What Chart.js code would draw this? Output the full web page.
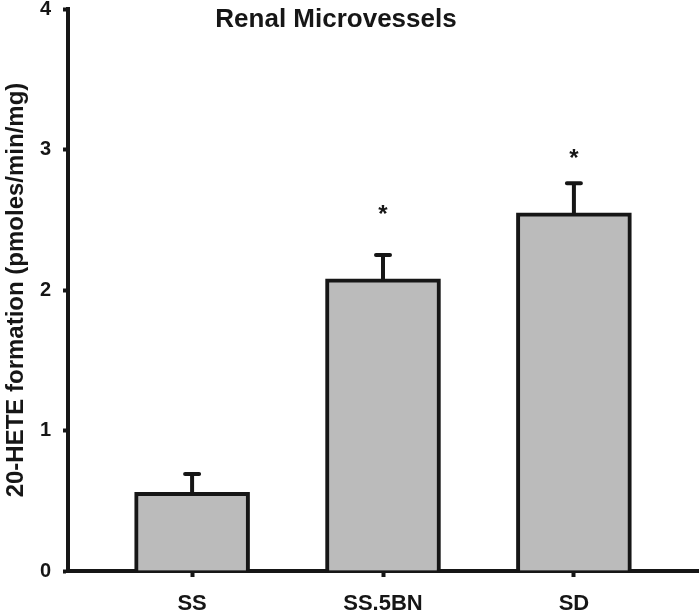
<!DOCTYPE html>
<html>
<head>
<meta charset="utf-8">
<script src="https://cdn.jsdelivr.net/npm/chart.js@4.4.1/dist/chart.umd.min.js"></script>
<style>
  html, body { margin: 0; padding: 0; background: #fff; }
  #wrap { width: 700px; height: 611px; position: relative; }
</style>
</head>
<body>
<div id="wrap"><canvas id="c"></canvas></div>
<script>
const categories = ["SS", "SS.5BN", "SD"];
const values = [0.56, 2.08, 2.55];
const errors = [0.13, 0.17, 0.21];
const starY = [null, 2.53, 2.93];
const yTicks = [0, 1, 2, 3, 4];
const chartTitle = "Renal Microvessels";
const yTitle = "20-HETE formation (pmoles/min/mg)";

const FONT = "'Liberation Sans', Arial, sans-serif";
const INK = '#161616';

const extras = {
  id: 'extras',
  afterDatasetsDraw(chart) {
    const ctx = chart.ctx;
    const xs = chart.scales.x, ys = chart.scales.y;
    ctx.save();
    ctx.strokeStyle = INK;
    ctx.lineWidth = 4;
    ctx.lineCap = 'round';
    values.forEach((v, i) => {
      const x = xs.getPixelForValue(i);
      const y0 = ys.getPixelForValue(v);
      const y1 = ys.getPixelForValue(v + errors[i]);
      ctx.beginPath();
      ctx.moveTo(x, y0); ctx.lineTo(x, y1);
      ctx.moveTo(x - 7, y1); ctx.lineTo(x + 7, y1);
      ctx.stroke();
    });
    ctx.fillStyle = INK;
    ctx.font = "bold 24px " + FONT;
    ctx.textAlign = 'center';
    ctx.textBaseline = 'middle';
    starY.forEach((s, i) => {
      if (s === null) return;
      ctx.fillText('*', xs.getPixelForValue(i), ys.getPixelForValue(s));
    });
    ctx.font = "bold 26px " + FONT;
    ctx.textBaseline = 'alphabetic';
    ctx.fillText(chartTitle, 336, 27);
    ctx.restore();
  }
};

new Chart(document.getElementById('c'), {
  type: 'bar',
  data: {
    datasets: [{
      data: values.map((v, i) => ({ x: i, y: v })),
      backgroundColor: '#bbbbbb',
      borderColor: INK,
      borderWidth: 4,
      borderSkipped: 'start',
      barThickness: 115
    }]
  },
  options: {
    responsive: true,
    maintainAspectRatio: false,
    animation: false,
    layout: { padding: { top: 9, right: 2, left: 0, bottom: 0 } },
    plugins: { legend: { display: false }, tooltip: { enabled: false }, title: { display: false } },
    scales: {
      x: {
        type: 'linear',
        offset: false,
        min: -0.65, max: 2.65,
        afterBuildTicks: s => { s.ticks = categories.map((c, i) => ({ value: i })); },
        afterFit: s => { s.height = 40; s.paddingRight = 0; },
        grid: { display: true, offset: false, drawOnChartArea: false, drawTicks: true, tickLength: 6, tickWidth: 4, tickColor: INK },
        border: { display: true, color: INK, width: 4 },
        ticks: {
          callback: v => categories[v],
          color: INK,
          font: { family: FONT, size: 22, weight: 'bold' },
          padding: 14,
          maxRotation: 0,
          autoSkip: false
        }
      },
      y: {
        min: 0, max: 4,
        afterBuildTicks: s => { s.ticks = yTicks.map(v => ({ value: v })); },
        afterFit: s => { s.width = 68; s.paddingTop = 0; s.paddingBottom = 0; },
        grid: { display: true, drawOnChartArea: false, drawTicks: true, tickLength: 5, tickWidth: 4, tickColor: INK },
        border: { display: true, color: INK, width: 4 },
        ticks: {
          color: INK,
          font: { family: FONT, size: 20, weight: 'bold' },
          padding: 12
        },
        title: {
          display: true,
          text: yTitle,
          color: INK,
          font: { family: FONT, size: 24, weight: 'bold' },
          padding: { top: 2, bottom: 0 }
        }
      }
    }
  },
  plugins: [extras]
});
</script>
</body>
</html>
